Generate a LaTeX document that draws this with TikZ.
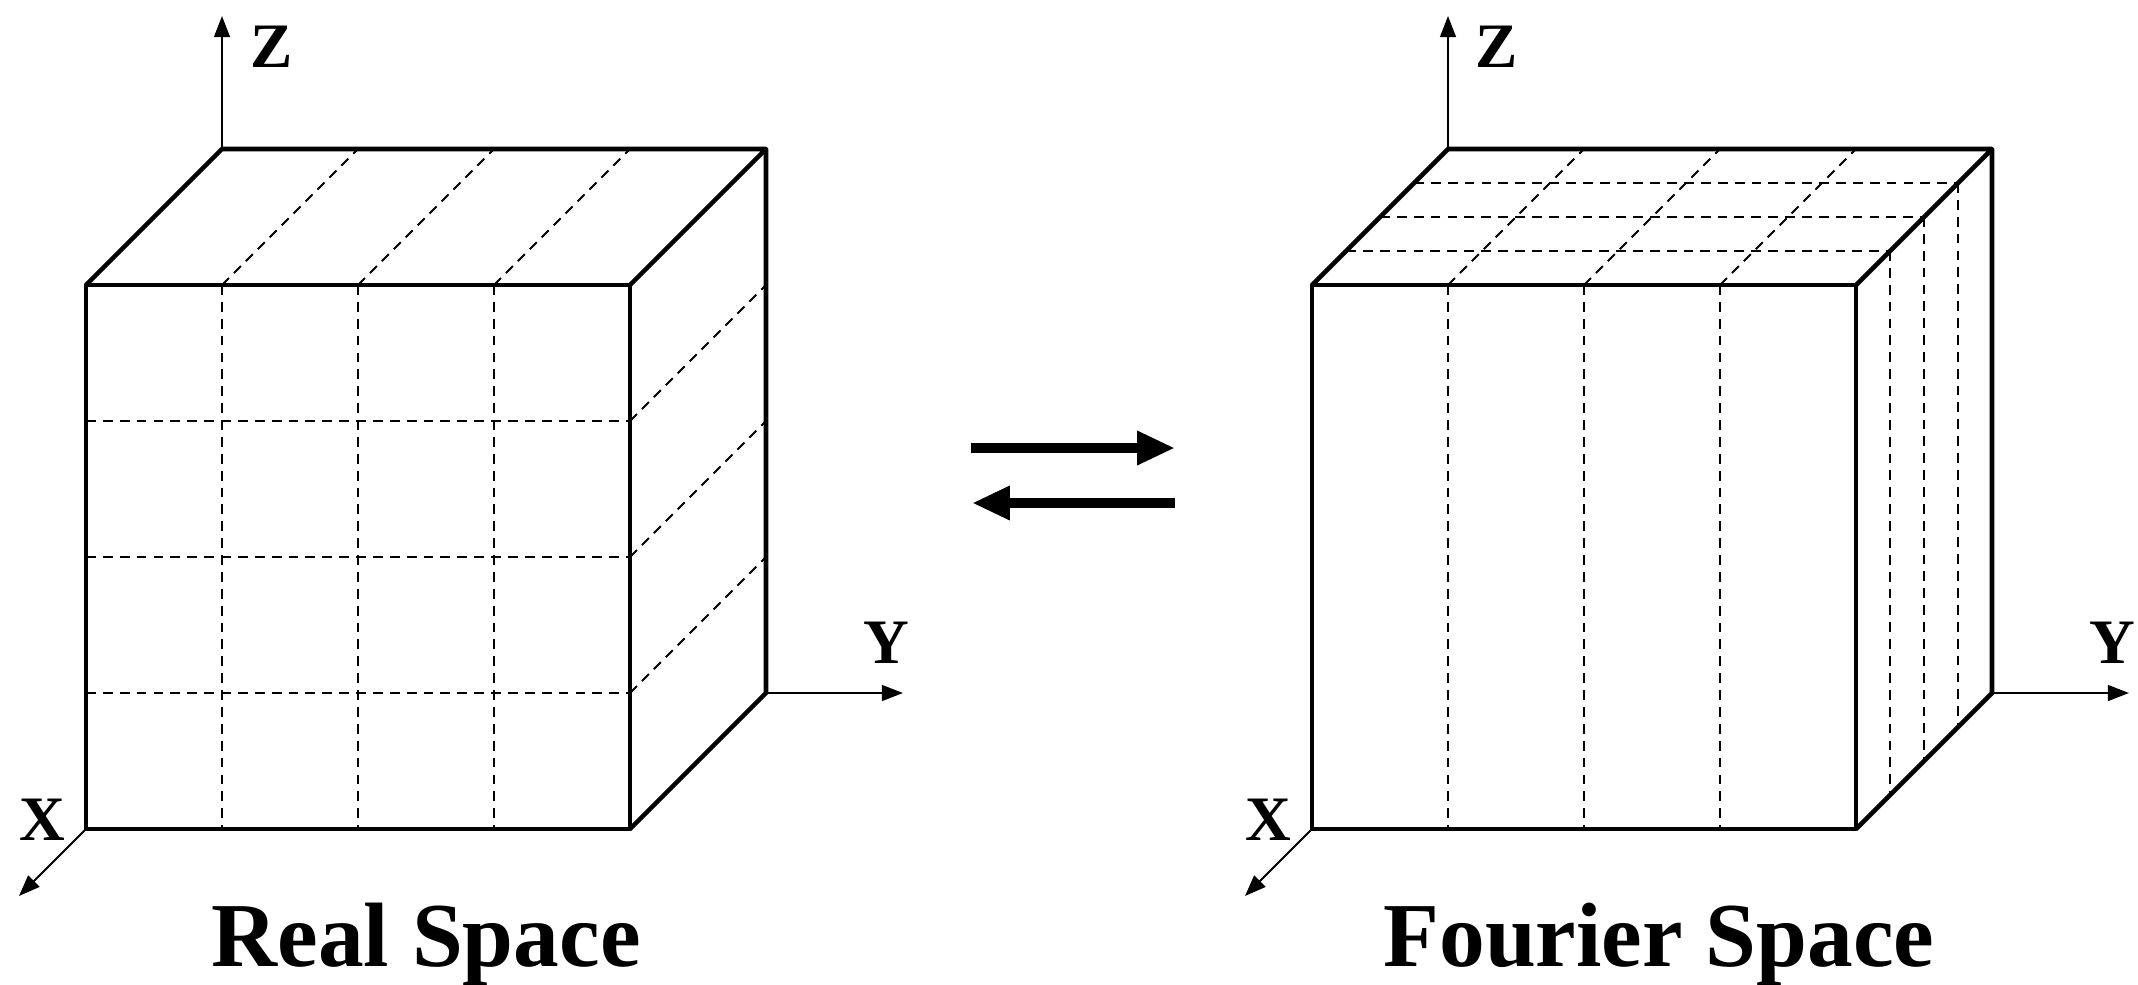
\documentclass[tikz,border=0pt]{standalone}
\usepackage{fontspec}
\setmainfont{Liberation Serif}
\usetikzlibrary{arrows.meta,calc}
\begin{document}
\begin{tikzpicture}[x=0.01cm,y=-0.01cm,
  edge/.style={line width=1.3pt, line join=round},
  gridline/.style={line width=0.55pt, dash pattern=on 2.8pt off 2pt},
  axis/.style={line width=0.55pt, -{Triangle[length=6pt,width=4.5pt]}},
  axlabel/.style={font=\fontsize{18}{18}\selectfont\bfseries, inner sep=0pt},
  title/.style={font=\fontsize{26}{26}\selectfont\bfseries, inner sep=0pt, anchor=base},
  bigarrow/.style={line width=2.85pt, -{Triangle[length=10.8pt,width=9.1pt]}}]
\useasboundingbox (0,0) rectangle (2138,984);

% ---------- left cube (Real Space) ----------
\coordinate (LA) at (86,829);
\coordinate (LB) at (630,829);
\coordinate (LC) at (630,285);
\coordinate (LD) at (86,285);
\coordinate (LE) at (222,149);
\coordinate (LF) at (766,149);
\coordinate (LG) at (766,693);
\coordinate (LZ) at (222,16);
\coordinate (LY) at (903,693);
\coordinate (LX) at (19,896);

\foreach \t in {0.25,0.5,0.75}{
  \draw[gridline] ($(LD)!\t!(LC)$) -- ($(LA)!\t!(LB)$);
  \draw[gridline] ($(LD)!\t!(LA)$) -- ($(LC)!\t!(LB)$);
  \draw[gridline] ($(LD)!\t!(LC)$) -- ($(LE)!\t!(LF)$);
  \draw[gridline] ($(LC)!\t!(LB)$) -- ($(LF)!\t!(LG)$);
}
\draw[edge] (LA) -- (LB) -- (LC) -- (LD) -- cycle;
\draw[edge] (LD) -- (LE) -- (LF) -- (LC);
\draw[edge] (LF) -- (LG) -- (LB);

\draw[axis] (LE) -- (LZ);
\draw[axis] (LG) -- (LY);
\draw[axis] (LA) -- (LX);
\node[axlabel] (LZl) at (272,47) {Z};
\node[axlabel] (LYl) at (886,643) {Y};
\node[axlabel] (LXl) at (42,820) {X};
\node[title] (Ltitle) at (426,966) {Real Space};

% ---------- middle arrows ----------
\coordinate (M1a) at (971,448);
\coordinate (M1b) at (1175,448);
\coordinate (M2a) at (1175,503);
\coordinate (M2b) at (972,503);
\draw[bigarrow] (M1a) -- (M1b);
\draw[bigarrow] (M2a) -- (M2b);

% ---------- right cube (Fourier Space) ----------
\coordinate (RA) at (1312,829);
\coordinate (RB) at (1856,829);
\coordinate (RC) at (1856,285);
\coordinate (RD) at (1312,285);
\coordinate (RE) at (1448,149);
\coordinate (RF) at (1992,149);
\coordinate (RG) at (1992,693);
\coordinate (RZ) at (1448,16);
\coordinate (RY) at (2129,693);
\coordinate (RX) at (1245,896);

\foreach \t in {0.25,0.5,0.75}{
  \draw[gridline] ($(RD)!\t!(RC)$) -- ($(RA)!\t!(RB)$);
  \draw[gridline] ($(RD)!\t!(RC)$) -- ($(RE)!\t!(RF)$);
  \draw[gridline] ($(RE)!\t!(RD)$) -- ($(RF)!\t!(RC)$);
  \draw[gridline] ($(RF)!\t!(RC)$) -- ($(RG)!\t!(RB)$);
}
\draw[edge] (RA) -- (RB) -- (RC) -- (RD) -- cycle;
\draw[edge] (RD) -- (RE) -- (RF) -- (RC);
\draw[edge] (RF) -- (RG) -- (RB);

\draw[axis] (RE) -- (RZ);
\draw[axis] (RG) -- (RY);
\draw[axis] (RA) -- (RX);
\node[axlabel] (RZl) at (1497,47) {Z};
\node[axlabel] (RYl) at (2112,643) {Y};
\node[axlabel] (RXl) at (1268,820) {X};
\node[title] (Rtitle) at (1659,966) {Fourier Space};
\end{tikzpicture}
\end{document}
